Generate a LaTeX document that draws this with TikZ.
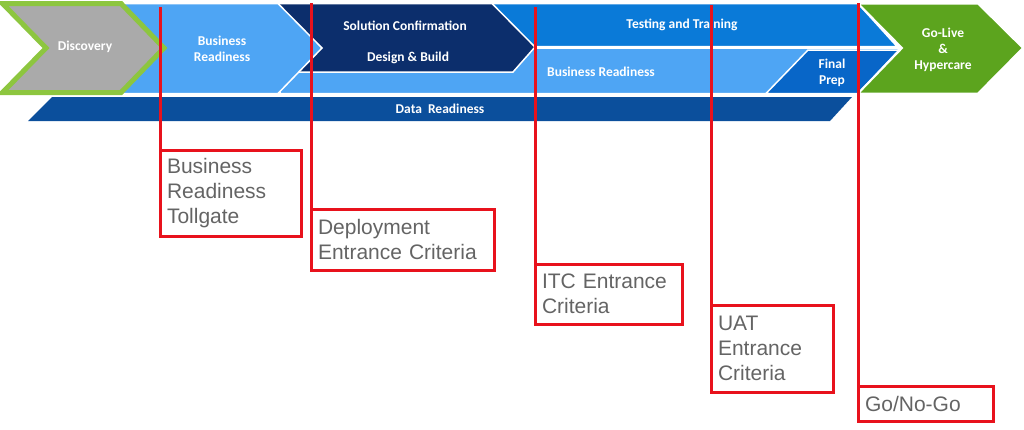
\documentclass[tikz,border=0pt]{standalone}
\usepackage{fontspec}
\setmainfont{Liberation Sans}
\newfontfamily\barfont{Carlito}
\definecolor{discgray}{RGB}{170,170,170}
\definecolor{discgreen}{RGB}{141,198,63}
\definecolor{lightblue}{RGB}{78,165,244}
\definecolor{navy}{RGB}{12,46,108}
\definecolor{testblue}{RGB}{10,122,216}
\definecolor{prepblue}{RGB}{8,102,200}
\definecolor{datablue}{RGB}{11,79,156}
\definecolor{golive}{RGB}{92,164,30}
\definecolor{gatered}{RGB}{232,18,28}
\definecolor{gatetext}{RGB}{100,100,100}
\begin{document}
\begin{tikzpicture}[x=1pt,y=-1pt,
  band/.style={draw=white,line width=1.5pt,line join=miter},
  bartext/.style={text=white,font=\barfont\bfseries\fontsize{13.5}{16}\selectfont,align=center,inner sep=0pt},
  gate/.style={draw=gatered,line width=3pt},
  crit/.style={draw=gatered,line width=3pt,anchor=north west,align=left,outer sep=0pt,
    inner xsep=7pt,text=gatetext,font=\fontsize{21}{25}\selectfont}]
\useasboundingbox (0,0) rectangle (1024,429);

% data readiness bar
\fill[datablue] (52,97) -- (852,97) -- (830,121) -- (28,121) -- cycle;
\node[bartext] (data) at (440,108.5) {Data\ \ Readiness};

% lower business readiness band and final prep
\filldraw[band,fill=lightblue] (280,48) -- (900,48) -- (858,93.5) -- (280,93.5) -- cycle;
\filldraw[band,fill=prepblue] (808,50) -- (899,50) -- (858,93.5) -- (766,93.5) -- cycle;
\node[bartext,anchor=west] (br2) at (547,72) {Business Readiness};
\node[bartext] (prep) at (832,72.5) {Final\\Prep};

% testing and training band
\filldraw[band,fill=testblue] (480,3.5) -- (858,3.5) -- (897,46.5) -- (480,46.5) -- cycle;
\node[bartext] (test) at (682,25) {Testing and Training};

% solution confirmation / design & build
\filldraw[band,fill=navy] (270,3.5) -- (492,3.5) -- (535,47) -- (513,72) -- (270,72) -- cycle;
\node[bartext] (sol) at (405,26) {Solution Confirmation};
\node[bartext] (build) at (408,58) {Design \& Build};

% business readiness chevron
\filldraw[band,fill=lightblue] (110,3.5) -- (278,3.5) -- (322,48) -- (278,93.5) -- (110,93.5) -- cycle;
\node[bartext] (br1) at (222,48.5) {Business\\Readiness};

% discovery chevron
\filldraw[fill=discgray,draw=discgreen,line width=5pt,line join=miter]
  (2.5,3.5) -- (121,3.5) -- (164,48) -- (121,92.5) -- (2.5,92.5) -- (46,48) -- cycle;
\node[bartext] (disc) at (85,47) {Discovery};

% go-live chevron
\filldraw[band,line width=2pt,fill=golive] (858,3.5) -- (978,3.5) -- (1023,48) -- (978,93.5) -- (858,93.5) -- (902,48) -- cycle;
\node[bartext] (go) at (943,49.5) {Go-Live\\\&\\Hypercare};

% gate criteria boxes
\node[crit,text width=127pt,minimum height=86pt] (g1) at (160,150) {Business\\Readiness\\Tollgate};
\node[crit,text width=169pt,minimum height=61pt] (g2) at (311,209) {Deployment\\Entrance Criteria};
\node[crit,text width=133pt,minimum height=60pt] (g3) at (535,264) {ITC Entrance\\Criteria};
\node[crit,text width=108pt,minimum height=87pt] (g4) at (711,305) {UAT\\Entrance\\Criteria};
\node[crit,text width=121pt,minimum height=35pt] (g5) at (858,386) {Go/No-Go};

% gate lines
\coordinate (t1) at (160,7);
\coordinate (t2) at (311,3);
\coordinate (t3) at (535,7);
\coordinate (t4) at (711,5);
\coordinate (t5) at (858,3);
\draw[gate] (t1) -- (g1.north west);
\draw[gate] (t2) -- (g2.north west);
\draw[gate] (t3) -- (g3.north west);
\draw[gate] (t4) -- (g4.north west);
\draw[gate] (t5) -- (g5.north west);
\end{tikzpicture}
\end{document}
